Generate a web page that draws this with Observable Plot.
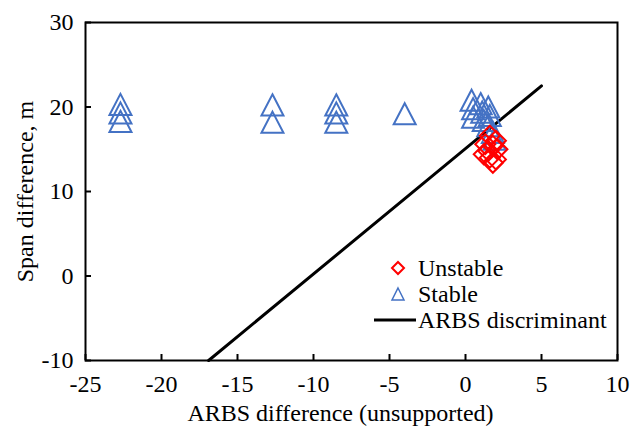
<!DOCTYPE html>
<html>
<head>
<meta charset="utf-8">
<script src="https://cdn.jsdelivr.net/npm/d3@7"></script>
<script src="https://cdn.jsdelivr.net/npm/@observablehq/plot@0.6"></script>
<style>
  html, body { margin: 0; padding: 0; background: #fff; }
  #wrap { position: relative; width: 630px; height: 428px; font-family: "Liberation Serif", "Times New Roman", serif; }
  #legend { position: absolute; left: 372px; top: 255px; font-size: 24px; color: #000; line-height: 26px; }
  #legend .row { display: flex; align-items: center; height: 26px; }
  #legend svg { width: 46px; height: 26px; overflow: visible; }
</style>
</head>
<body>
<div id="wrap"></div>
<script>
// ---- data ----
const stableX = [-22.7, -22.7, -22.7, -12.7, -12.7, -8.5, -8.5, -8.5, -4.0,
                 0.4, 0.5, 0.5, 1.0, 1.1, 1.2, 1.5, 1.6, 1.5, 1.8, 1.9];
const stableY = [20.3, 19.3, 18.3, 20.25, 18.2, 20.25, 19.3, 18.2, 19.2,
                 20.8, 19.8, 18.8, 20.4, 19.4, 18.4, 20.0, 19.0, 17.8, 17.0, 16.2];
const unstableX = [1.6, 2.0, 1.3, 1.8, 1.5, 2.1, 1.2, 1.6, 2.0, 1.8];
const unstableY = [16.6, 16.0, 15.6, 15.4, 14.8, 15.0, 14.4, 14.0, 13.8, 13.4];
const lineX = [-16.9, 5.0];
const lineY = [-10, 22.5];
const xTicks = [-25, -20, -15, -10, -5, 0, 5, 10];
const yTicks = [-10, 0, 10, 20, 30];
const labels = { x: "ARBS difference (unsupported)", y: "Span difference, m",
                 unstable: "Unstable", stable: "Stable", line: "ARBS discriminant" };

const stable = stableX.map((x, i) => ({x, y: stableY[i]}));
const unstable = unstableX.map((x, i) => ({x, y: unstableY[i]}));
const line = lineX.map((x, i) => ({x, y: lineY[i]}));

// bbox-centred triangle like Excel markers
const tri = { draw(ctx, size) { const r = Math.sqrt(size / Math.PI); const h = r * 0.96;
  ctx.moveTo(0, -h); ctx.lineTo(r, h); ctx.lineTo(-r, h); ctx.closePath(); } };
const dia = { draw(ctx, size) { const r = Math.sqrt(size / Math.PI);
  ctx.moveTo(0, -r); ctx.lineTo(r, 0); ctx.lineTo(0, r); ctx.lineTo(-r, 0); ctx.closePath(); } };

const blue = "#4472C4", red = "#FF0000";
const fmt = d => d < 0 ? "-" + Math.abs(d) : String(d);

const chart = Plot.plot({
  width: 630, height: 428,
  marginLeft: 85, marginRight: 13, marginTop: 22, marginBottom: 68,
  style: { fontFamily: "Liberation Serif, Times New Roman, serif", fontSize: "24px", color: "#000", background: "#fff" },
  x: { domain: [-25, 10] },
  y: { domain: [-10, 30] },
  marks: [
    Plot.frame({ stroke: "#000", strokeWidth: 2 }),
    Plot.axisX({ ticks: xTicks, tickSize: -6, tickPadding: 20, tickFormat: fmt, label: null, strokeWidth: 2, fontSize: 24 }),
    Plot.axisY({ ticks: yTicks, tickSize: -6, tickPadding: 18, tickFormat: fmt, label: null, strokeWidth: 2, fontSize: 24 }),
    Plot.text([labels.x], { frameAnchor: "bottom", text: d => d, dy: 60, dx: -11, fontSize: 24 }),
    Plot.text([labels.y], { frameAnchor: "left", textAnchor: "middle", lineAnchor: "middle", text: d => d, rotate: -90, dx: -60, fontSize: 24 }),
    Plot.line(line, { x: "x", y: "y", stroke: "#000", strokeWidth: 3 }),
    Plot.dot(stable, { x: "x", y: "y", symbol: tri, r: 11, stroke: blue, strokeWidth: 2, fill: "none" }),
    Plot.dot(unstable, { x: "x", y: "y", symbol: dia, r: 10, stroke: red, strokeWidth: 2, fill: "none" })
  ]
});
const wrap = document.getElementById("wrap");
wrap.appendChild(chart);

const leg = document.createElement("div");
leg.id = "legend";
leg.innerHTML = `
 <div class="row"><svg><path d="M26,7 L32,13 L26,19 L20,13 Z" fill="none" stroke="${red}" stroke-width="2"/></svg><span>${labels.unstable}</span></div>
 <div class="row"><svg><path d="M26,7 L32,19 L20,19 Z" fill="none" stroke="${blue}" stroke-width="1.5"/></svg><span>${labels.stable}</span></div>
 <div class="row"><svg><line x1="2" y1="13" x2="44" y2="13" stroke="#000" stroke-width="3"/></svg><span>${labels.line}</span></div>`;
wrap.appendChild(leg);
</script>
</body>
</html>
